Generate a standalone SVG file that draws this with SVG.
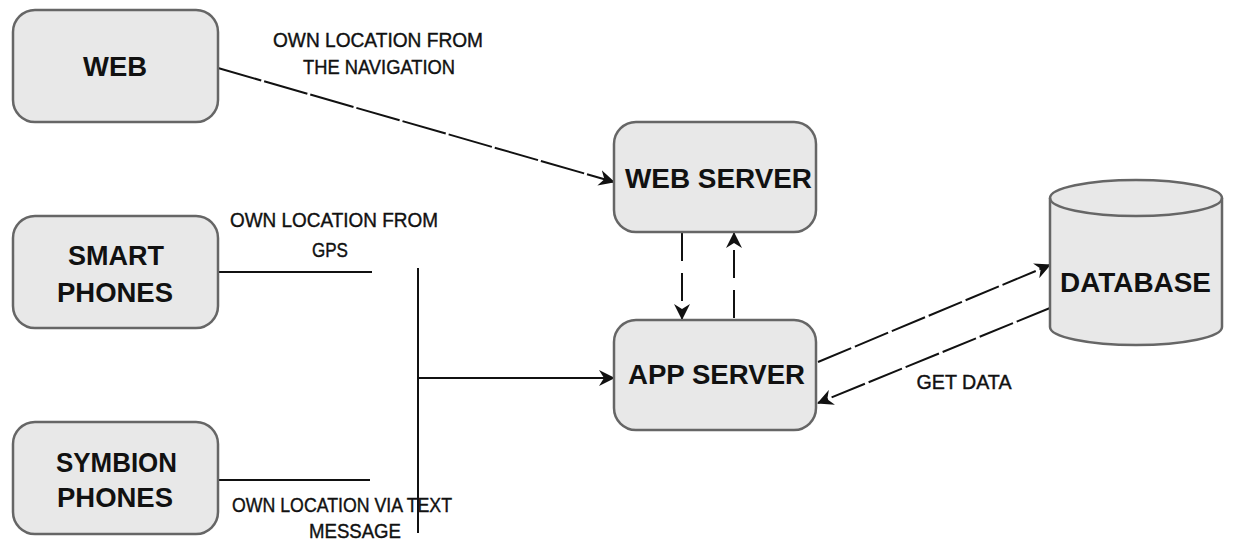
<svg xmlns="http://www.w3.org/2000/svg" width="1234" height="544" viewBox="0 0 1234 544">
<style>
.box{fill:#e8e8e8;stroke:#666;stroke-width:2.5}
.nl{font-family:"Liberation Sans",Arial,sans-serif;font-weight:bold;font-size:27px;fill:#111;text-anchor:middle}
.el{font-family:"Liberation Sans",Arial,sans-serif;font-size:20px;fill:#111;text-anchor:middle;stroke:#111;stroke-width:0.4}
.c{fill:none;stroke:#111;stroke-width:2}
</style>
<defs>
<marker id="ah" viewBox="0 0 16 16" refX="15" refY="8" markerWidth="16" markerHeight="16" markerUnits="userSpaceOnUse" orient="auto">
<path d="M0,0 L16,8 L0,16 L5,8 z" fill="#111"/>
</marker>
</defs>
<rect width="1234" height="544" fill="#fff"/>
<g id="connectors">
<line class="c" x1="218" y1="68" x2="614" y2="182" stroke-dasharray="45 3" marker-end="url(#ah)"/>
<line class="c" x1="218" y1="272" x2="372" y2="272"/>
<line class="c" x1="218" y1="480" x2="370" y2="480"/>
<line class="c" x1="418" y1="268" x2="418" y2="533"/>
<line class="c" x1="418" y1="378" x2="614" y2="378" marker-end="url(#ah)"/>
<line class="c" x1="682" y1="233" x2="682" y2="319" stroke-dasharray="28 12" marker-end="url(#ah)"/>
<line class="c" x1="734" y1="318" x2="734" y2="233" stroke-dasharray="28 12" marker-end="url(#ah)"/>
<line class="c" x1="818" y1="362" x2="1050" y2="265" stroke-dasharray="36 4" marker-end="url(#ah)"/>
<line class="c" x1="1050" y1="308" x2="818" y2="403" stroke-dasharray="36 4" marker-end="url(#ah)"/>
<text class="el" x="378" y="47" textLength="210" lengthAdjust="spacingAndGlyphs">OWN LOCATION FROM</text>
<text class="el" x="379" y="74" textLength="152" lengthAdjust="spacingAndGlyphs">THE NAVIGATION</text>
<text class="el" x="334" y="227" textLength="208" lengthAdjust="spacingAndGlyphs">OWN LOCATION FROM</text>
<text class="el" x="330" y="257" textLength="36" lengthAdjust="spacingAndGlyphs">GPS</text>
<text class="el" x="342" y="512" textLength="220" lengthAdjust="spacingAndGlyphs">OWN LOCATION VIA TEXT</text>
<text class="el" x="355" y="538" textLength="92" lengthAdjust="spacingAndGlyphs">MESSAGE</text>
<text class="el" x="964" y="389" textLength="95" lengthAdjust="spacingAndGlyphs">GET DATA</text>
</g>
<g id="web">
<rect class="box" x="13" y="10" width="205" height="112" rx="22"/>
<text class="nl" x="115" y="76" textLength="64" lengthAdjust="spacingAndGlyphs">WEB</text>
</g>
<g id="smart">
<rect class="box" x="13" y="216" width="205" height="112" rx="22"/>
<text class="nl" x="116" y="265" textLength="96" lengthAdjust="spacingAndGlyphs">SMART</text>
<text class="nl" x="115" y="302" textLength="116" lengthAdjust="spacingAndGlyphs">PHONES</text>
</g>
<g id="symbion">
<rect class="box" x="13" y="422" width="205" height="112" rx="22"/>
<text class="nl" x="116.5" y="472" textLength="121" lengthAdjust="spacingAndGlyphs">SYMBION</text>
<text class="nl" x="115" y="507" textLength="116" lengthAdjust="spacingAndGlyphs">PHONES</text>
</g>
<g id="webserver">
<rect class="box" x="614" y="122" width="202" height="110" rx="22"/>
<text class="nl" x="718.5" y="188" textLength="187" lengthAdjust="spacingAndGlyphs">WEB SERVER</text>
</g>
<g id="appserver">
<rect class="box" x="614" y="320" width="202" height="110" rx="22"/>
<text class="nl" x="716.5" y="384" textLength="177" lengthAdjust="spacingAndGlyphs">APP SERVER</text>
</g>
<g id="database">
<path class="box" d="M1050,198 A86,18 0 0 1 1222,198 L1222,327 A86,18 0 0 1 1050,327 Z"/>
<path d="M1050,198 A86,18 0 0 0 1222,198" fill="none" stroke="#666" stroke-width="2.5"/>
<text class="nl" x="1135.5" y="292" textLength="151" lengthAdjust="spacingAndGlyphs">DATABASE</text>
</g>
</svg>
